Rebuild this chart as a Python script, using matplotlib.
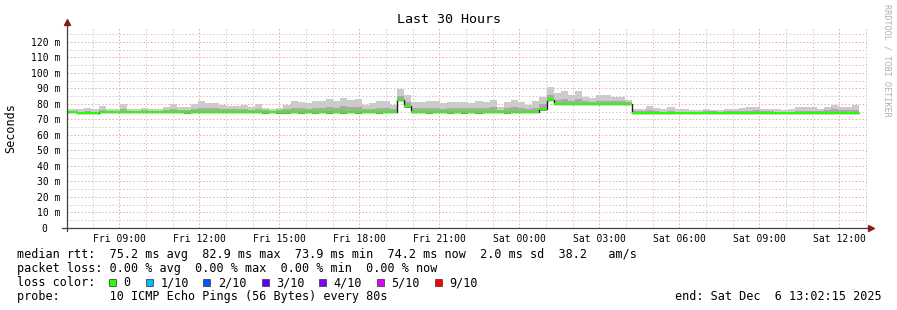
import numpy as np
import matplotlib
matplotlib.use("Agg")
import matplotlib.pyplot as plt
from matplotlib.patches import Rectangle

plt.rcParams['font.family'] = ['DejaVu Sans Mono']
plt.rcParams['lines.scale_dashes'] = False

# smokeping rtt summary, one bin every 16 min, hours counted from Fri 00:00
bin_start = 6.8889
bin_hours = 16 / 60
x_start = 7.0375   # Fri 07:02:15
x_end = 37.0375    # Sat 13:02:15

median = [74.8, 74.8, 73.9, 73.9, 73.9, 74.8, 74.8, 74.8, 74.8, 74.8,
          74.8, 74.8, 74.8, 74.8, 74.8, 74.8, 74.8, 74.8, 74.8, 74.9,
          74.8, 75.0, 74.8, 74.8, 74.8, 74.8, 74.8, 74.8, 74.8, 74.8,
          74.8, 74.8, 74.8, 74.9, 74.8, 74.8, 74.8, 74.9, 74.8, 74.8,
          74.8, 74.9, 74.8, 74.8, 74.8, 74.8, 74.8, 82.6, 78.6, 74.8,
          74.8, 74.8, 74.8, 74.8, 74.8, 74.8, 74.8, 74.8, 74.8, 74.8,
          74.8, 74.8, 74.8, 74.8, 74.8, 74.8, 74.8, 76.8, 82.9, 79.9,
          79.9, 79.9, 79.9, 79.9, 79.9, 79.9, 79.9, 79.9, 79.9, 79.9,
          74.5, 74.5, 74.5, 74.5, 73.9, 73.9, 73.9, 73.9, 73.9, 74.5,
          74.5, 74.5, 74.5, 74.5, 74.5, 74.5, 74.5, 74.5, 74.5, 74.5,
          73.9, 73.9, 73.9, 74.5, 74.5, 74.5, 74.5, 74.5, 74.5, 74.5,
          74.5, 74.2]

ping_lo = [74.0, 74.0, 73.3, 73.3, 73.3, 74.0, 74.0, 74.0, 74.0, 74.0,
           74.0, 74.0, 74.0, 74.0, 74.0, 74.0, 74.0, 73.8, 74.0, 74.0,
           74.0, 74.0, 74.0, 74.0, 74.0, 74.0, 74.0, 74.0, 73.8, 74.0,
           73.6, 73.6, 74.0, 73.8, 74.0, 73.6, 74.0, 73.8, 74.0, 73.6,
           74.0, 73.6, 74.0, 74.0, 73.8, 74.0, 74.0, 81.8, 77.6, 74.0,
           74.0, 73.6, 74.0, 74.0, 73.8, 74.0, 73.6, 74.0, 73.6, 74.0,
           74.0, 74.0, 73.6, 74.0, 74.0, 74.0, 74.0, 75.8, 82.0, 79.2,
           79.2, 79.2, 79.2, 79.2, 79.2, 79.2, 79.2, 79.2, 79.2, 79.2,
           73.8, 73.8, 73.8, 73.8, 73.3, 73.3, 73.3, 73.3, 73.3, 73.8,
           73.8, 73.8, 73.8, 73.8, 73.8, 73.8, 73.8, 73.8, 73.8, 73.8,
           73.3, 73.3, 73.3, 73.8, 73.8, 73.8, 73.8, 73.8, 73.8, 73.8,
           73.8, 73.6]

ping_mid = [75.6, 75.6, 75.1, 75.3, 75.1, 76.4, 75.6, 75.6, 76.8, 75.6,
            75.6, 75.9, 75.6, 75.6, 76.2, 76.9, 76.2, 76.2, 76.9, 77.7,
            77.3, 77.1, 76.7, 76.5, 76.5, 76.7, 76.2, 76.9, 76.0, 75.7,
            76.0, 76.7, 77.7, 77.5, 77.0, 77.7, 77.7, 78.2, 77.7, 78.5,
            77.9, 78.2, 76.7, 77.0, 77.7, 77.7, 76.7, 85.4, 81.5, 77.3,
            77.3, 77.7, 77.7, 77.0, 77.3, 77.5, 77.3, 77.1, 77.7, 77.4,
            77.9, 76.2, 77.5, 77.9, 77.4, 76.6, 77.7, 80.0, 86.0, 82.7,
            83.3, 82.2, 83.3, 81.8, 81.4, 82.2, 82.2, 81.8, 81.8, 81.0,
            75.4, 75.4, 76.2, 75.6, 75.1, 75.6, 75.1, 75.0, 74.7, 75.1,
            75.4, 75.3, 75.1, 75.4, 75.4, 75.6, 75.8, 75.9, 75.4, 75.4,
            75.1, 74.9, 75.1, 75.8, 75.8, 75.8, 75.4, 75.9, 76.5, 75.9,
            75.9, 76.4]

ping_hi = [76.8, 76.8, 76.8, 77.4, 76.8, 78.9, 76.8, 76.8, 79.8, 76.8,
           76.8, 77.4, 76.8, 76.8, 78.3, 80.0, 78.3, 78.3, 80.0, 82.0,
           80.9, 80.4, 79.5, 79.0, 79.0, 79.6, 78.3, 80.0, 77.6, 77.0,
           77.6, 79.6, 82.0, 81.5, 80.4, 82.0, 82.0, 83.2, 82.0, 84.0,
           82.6, 83.2, 79.6, 80.4, 82.0, 82.0, 79.6, 89.7, 85.8, 81.1,
           81.1, 82.0, 82.0, 80.4, 81.0, 81.5, 81.0, 80.5, 82.0, 81.3,
           82.6, 78.3, 81.5, 82.6, 81.3, 79.4, 82.0, 84.7, 90.7, 86.9,
           88.4, 85.6, 88.4, 84.7, 83.7, 85.6, 85.6, 84.7, 84.7, 82.6,
           76.8, 76.8, 78.7, 77.3, 76.8, 78.1, 76.8, 76.6, 75.9, 75.9,
           76.8, 76.4, 75.9, 76.8, 76.8, 77.3, 77.8, 78.0, 76.8, 76.8,
           76.8, 76.4, 76.8, 77.8, 77.8, 77.8, 76.8, 78.1, 79.6, 78.1,
           78.1, 79.6]

tick_hours = [9, 12, 15, 18, 21, 24, 27, 30, 33, 36]
tick_labels = ["Fri 09:00", "Fri 12:00", "Fri 15:00", "Fri 18:00", "Fri 21:00",
               "Sat 00:00", "Sat 03:00", "Sat 06:00", "Sat 09:00", "Sat 12:00"]

loss_labels = ["0", "1/10", "2/10", "3/10", "4/10", "5/10", "9/10"]
loss_colors = ["#26ff00", "#00b8ff", "#0059ff", "#5e00ff", "#7e00ff", "#dd00ff", "#ff0000"]

W, H = 897, 310
fig = plt.figure(figsize=(W / 100, H / 100), dpi=100)
fig.patch.set_facecolor("white")

def fx(px):
    return px / W

def fy(py):
    return 1 - py / H

ax = fig.add_axes([fx(67), fy(228), 800 / W, 200 / H])
ax.set_xlim(x_start, x_end)
ax.set_ylim(0, 129.03)

edges = bin_start + bin_hours * np.arange(len(median) + 1)
med = np.array(median)

ax.stairs(ping_hi, edges, baseline=ping_lo, fill=True, color="#cbcbcb", lw=0, zorder=2)
ax.stairs(ping_mid, edges, baseline=ping_lo, fill=True, color="#a9a9a9", lw=0, zorder=3)
ax.stairs(med, edges, baseline=None, color="#202020", lw=1.0, zorder=4)
ax.stairs(med + 0.65, edges, baseline=med - 0.65, fill=True, color=loss_colors[0], lw=0, zorder=5)

# grid
ax.set_yticks(np.arange(0, 121, 10))
ax.set_yticks(np.arange(0, 126, 5), minor=True)
ax.set_yticklabels(["0  "] + [f"{v} m" for v in range(10, 121, 10)], fontsize=7)
ax.set_xticks(tick_hours)
ax.set_xticks(np.arange(8, 38, 1), minor=True)
ax.set_xticklabels(tick_labels, fontsize=7)
ax.grid(which="minor", color="#c8c8c8", linestyle=(0, (1, 1.5)), lw=0.7, zorder=1)
ax.grid(which="major", color="#f2a0a0", linestyle=(0, (1, 1.5)), lw=0.7, zorder=1)
ax.tick_params(which="both", length=0)
ax.tick_params(axis="y", pad=5)
ax.tick_params(axis="x", pad=4)
for s in ax.spines.values():
    s.set_visible(False)

# axes with arrow heads
ax.plot([0, 0], [-0.015, 1.02], transform=ax.transAxes, color="#404040", lw=0.9, clip_on=False, zorder=6)
ax.plot([-0.006, 1.005], [0, 0], transform=ax.transAxes, color="#404040", lw=0.9, clip_on=False, zorder=6)
ax.plot([0], [1.03], marker="^", ms=4, color="#8b1a1a", transform=ax.transAxes, clip_on=False, zorder=7)
ax.plot([1.005], [0], marker=">", ms=4, color="#8b1a1a", transform=ax.transAxes, clip_on=False, zorder=7)

fig.text(0.5, fy(19.5), "Last 30 Hours", ha="center", va="center", fontsize=9.6)
fig.text(fx(11), fy(128), "Seconds", rotation=90, ha="center", va="center", fontsize=8.5)
fig.text(fx(887), fy(4), "RRDTOOL / TOBI OETIKER", rotation=270, ha="center", va="top",
         fontsize=6.1, color="#b0b0b0")

fs = 8.5
fig.text(fx(16.7), fy(258), "median rtt:  75.2 ms avg  82.9 ms max  73.9 ms min  74.2 ms now  2.0 ms sd  38.2   am/s",
         va="baseline", fontsize=fs)
fig.text(fx(16.7), fy(272), "packet loss: 0.00 % avg  0.00 % max  0.00 % min  0.00 % now",
         va="baseline", fontsize=fs)
fig.text(fx(16.7), fy(286), "loss color:", va="baseline", fontsize=fs)
box_x = [109, 145.7, 203.3, 261.7, 319.3, 377, 435]
for bx, lab, col in zip(box_x, loss_labels, loss_colors):
    fig.patches.append(Rectangle((fx(bx), fy(286)), 7 / W, 7 / H, transform=fig.transFigure,
                                 facecolor=col, edgecolor="#303030", lw=0.5))
    fig.text(fx(bx + 14.5), fy(286), lab, va="baseline", fontsize=fs)
fig.text(fx(16.7), fy(300), "probe:       10 ICMP Echo Pings (56 Bytes) every 80s",
         va="baseline", fontsize=fs)
fig.text(fx(882), fy(300), "end: Sat Dec  6 13:02:15 2025", ha="right", va="baseline", fontsize=fs)

fig.savefig("out.png", dpi=100, facecolor="white")
